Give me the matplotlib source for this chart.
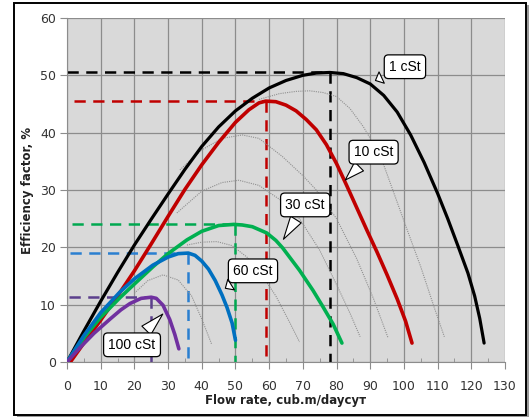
import numpy as np
import matplotlib
matplotlib.use('Agg')
import matplotlib.pyplot as plt
from matplotlib.patches import Rectangle

#######################################
# efficiency factor vs flow rate for several oil viscosities
#######################################

# labelled curves
flow_1 = [0, 5, 10, 15, 20, 25, 30, 35, 40, 45, 50, 55, 60, 65, 70, 74, 78, 82, 86, 90, 94, 98, 102, 106, 110, 113, 116, 119, 121, 122.5, 123.8]
eff_1 = [0, 5.4, 10.6, 15.6, 20.4, 24.9, 29.3, 33.6, 37.6, 41.0, 43.8, 46.0, 47.8, 49.1, 50.0, 50.4, 50.5, 50.3, 49.6, 48.5, 46.5, 43.6, 39.6, 34.8, 29.4, 25.0, 20.3, 15.5, 11.5, 7.6, 3.3]

flow_10 = [1, 5, 10, 15, 20, 25, 30, 35, 40, 45, 50, 54, 57, 59, 62, 65, 68, 71, 74, 77, 80, 83, 86, 89, 92, 95, 98, 100.5, 102.4]
eff_10 = [0, 3.3, 7.3, 11.5, 15.9, 20.6, 25.4, 30.1, 34.4, 38.3, 41.8, 44.0, 45.2, 45.5, 45.4, 44.8, 43.8, 42.3, 40.5, 37.9, 34.6, 30.8, 26.9, 23.0, 19.2, 15.2, 11.0, 7.1, 3.3]

flow_30 = [0, 5, 10, 15.7, 20, 25.5, 30, 35.6, 40, 45, 49.5, 52, 55, 59.3, 62, 64, 69, 73, 76, 79, 81.6]
eff_30 = [0, 4.2, 7.8, 11.2, 13.6, 16.6, 18.9, 21.3, 22.8, 23.8, 24, 23.9, 23.6, 22.5, 21.2, 19.9, 16, 12.5, 9.6, 6.6, 3.3]

flow_60 = [0, 5, 10, 15.7, 20, 25.5, 30, 33, 36, 38, 40, 42, 44, 46, 47.5, 49, 50]
eff_60 = [0, 4.6, 8.6, 12.2, 14.5, 16.9, 18.3, 18.9, 19.0, 18.6, 17.6, 16.2, 14.2, 11.7, 9.5, 6.8, 3.8]

flow_100 = [0, 4, 8, 12.8, 16, 18.7, 22, 25, 26.5, 28.5, 30.5, 32, 33.2]
eff_100 = [0, 2.6, 5.0, 7.5, 9.1, 10.2, 11.1, 11.3, 11.1, 9.9, 7.4, 4.8, 2.3]

# optimum points (peak of each curve) + where the horizontal dashes start
opt_flow = [78, 59, 50, 36, 25]
opt_eff = [50.5, 45.5, 24, 19, 11.3]
opt_start = [0, 2, 1.5, 1, 0.5]

# unlabelled intermediate curves (thin dotted)
gray_flow = [
  [57, 63, 68, 72, 76, 80, 84, 88, 93, 97, 101, 105, 109, 112],
  [33.5, 40, 46, 52, 57, 64, 70, 74, 80, 86, 91, 95.3],
  [32.6, 40, 46, 51, 57, 64, 69, 75, 80, 84, 87],
  [35.6, 40, 44.5, 49, 53.4, 58, 62, 66, 69],
  [20, 24, 28.5, 33, 37, 40, 43],
]
gray_eff = [
  [45.8, 46.8, 47.2, 47.3, 47.0, 46.3, 44.2, 41, 36, 29.5, 23, 16.6, 9.5, 4.4],
  [33.5, 37, 39, 39.6, 39, 35.8, 32.5, 30, 25, 18, 11, 4.2],
  [26, 29.8, 31.3, 31.7, 30.8, 28, 25, 19.5, 13.5, 8.5, 4.4],
  [20.4, 20.9, 21, 20.3, 18.3, 15, 11.5, 7, 3.5],
  [12, 14.2, 15.2, 14.3, 11.5, 7.5, 3],
]

labels = ['1 cSt', '10 cSt', '30 cSt', '60 cSt', '100 cSt']
label_xy = [(100.3, 51.5), (91, 36.6), (70.7, 27.4), (55.2, 15.9), (19.3, 3.0)]
label_tip = [(90.8, 48.9), (82, 31.4), (63.8, 21), (46.3, 12.6), (29, 8.7)]

colors = ['#000000', '#c00000', '#00b050', '#0070c0', '#7030a0']
dash_colors = ['#000000', '#c00000', '#00a850', '#2a7fd0', '#5b3f8c']

fig = plt.figure(figsize=(5.32, 4.17), dpi=100)
fig.patch.set_facecolor('white')
# outer frame with a little shadow
fig.patches.append(Rectangle((17/532., 0.), 512/532., 412/417., transform=fig.transFigure,
                             fc='#9a9a9a', ec='none', zorder=-3))
fig.patches.append(Rectangle((14/532., 2/417.), 512/532., 412/417., transform=fig.transFigure,
                             fc='white', ec='black', lw=1.4, zorder=-2))

ax = fig.add_axes([67/532., 55/417., 438/532., 344/417.])
ax.set_facecolor('#d9d9d9')
ax.set_xlim(0, 130)
ax.set_ylim(0, 60)
ax.set_xticks(np.arange(0, 131, 10))
ax.set_yticks(np.arange(0, 61, 10))
ax.set_xticks(np.arange(5, 130, 10), minor=True)
ax.grid(True, which='major', color='#8c8c8c', lw=0.9)
ax.set_axisbelow(True)
for s in ax.spines.values():
  s.set_visible(False)
ax.spines['bottom'].set_visible(True)
ax.spines['bottom'].set_color('#8c8c8c')
ax.spines['left'].set_visible(True)
ax.spines['left'].set_color('#8c8c8c')
ax.tick_params(which='major', length=5, color='#8c8c8c', labelsize=9, labelcolor='#333333', pad=3)
ax.tick_params(axis='x', which='major', pad=8)
ax.tick_params(which='minor', direction='in', length=3, color='#8c8c8c')

# dashed optimum markers
for i in range(len(opt_flow)):
  ax.plot([opt_start[i], opt_flow[i]], [opt_eff[i], opt_eff[i]], color=dash_colors[i], lw=1.8, dashes=(4.5, 3), zorder=2)
  ax.plot([opt_flow[i], opt_flow[i]], [opt_eff[i], 0], color=dash_colors[i], lw=1.8, dashes=(4.5, 3), zorder=2)

# intermediate dotted curves
for i in range(len(gray_flow)):
  ax.plot(gray_flow[i], gray_eff[i], color='#909090', lw=0.8, ls=(0, (1, 1)), zorder=3)

flows = [flow_1, flow_10, flow_30, flow_60, flow_100]
effs = [eff_1, eff_10, eff_30, eff_60, eff_100]
widths = [2.3, 2.6, 2.6, 2.6, 2.6]
for i in range(len(flows)):
  ax.plot(flows[i], effs[i], color=colors[i], lw=widths[i], solid_capstyle='round',
          solid_joinstyle='round', zorder=4)

# callouts
for i in range(len(labels)):
  ax.annotate(labels[i], xy=label_tip[i], xytext=label_xy[i], ha='center', va='center',
              fontsize=10, family=['Liberation Sans', 'DejaVu Sans'], zorder=6,
              bbox=dict(boxstyle='round,pad=0.35,rounding_size=0.3', fc='white', ec='black', lw=0.9),
              arrowprops=dict(arrowstyle='wedge,tail_width=0.9,shrink_factor=0.5', fc='white', ec='black', lw=0.8))

ax.set_xlabel('Flow rate, cub.m/dayсут', fontsize=8.5, fontweight='bold', color='#222222', labelpad=1)
ax.set_ylabel('Efficiency factor, %', fontsize=8.5, fontweight='bold', color='#222222', labelpad=4)

plt.savefig('out.png', dpi=100)
